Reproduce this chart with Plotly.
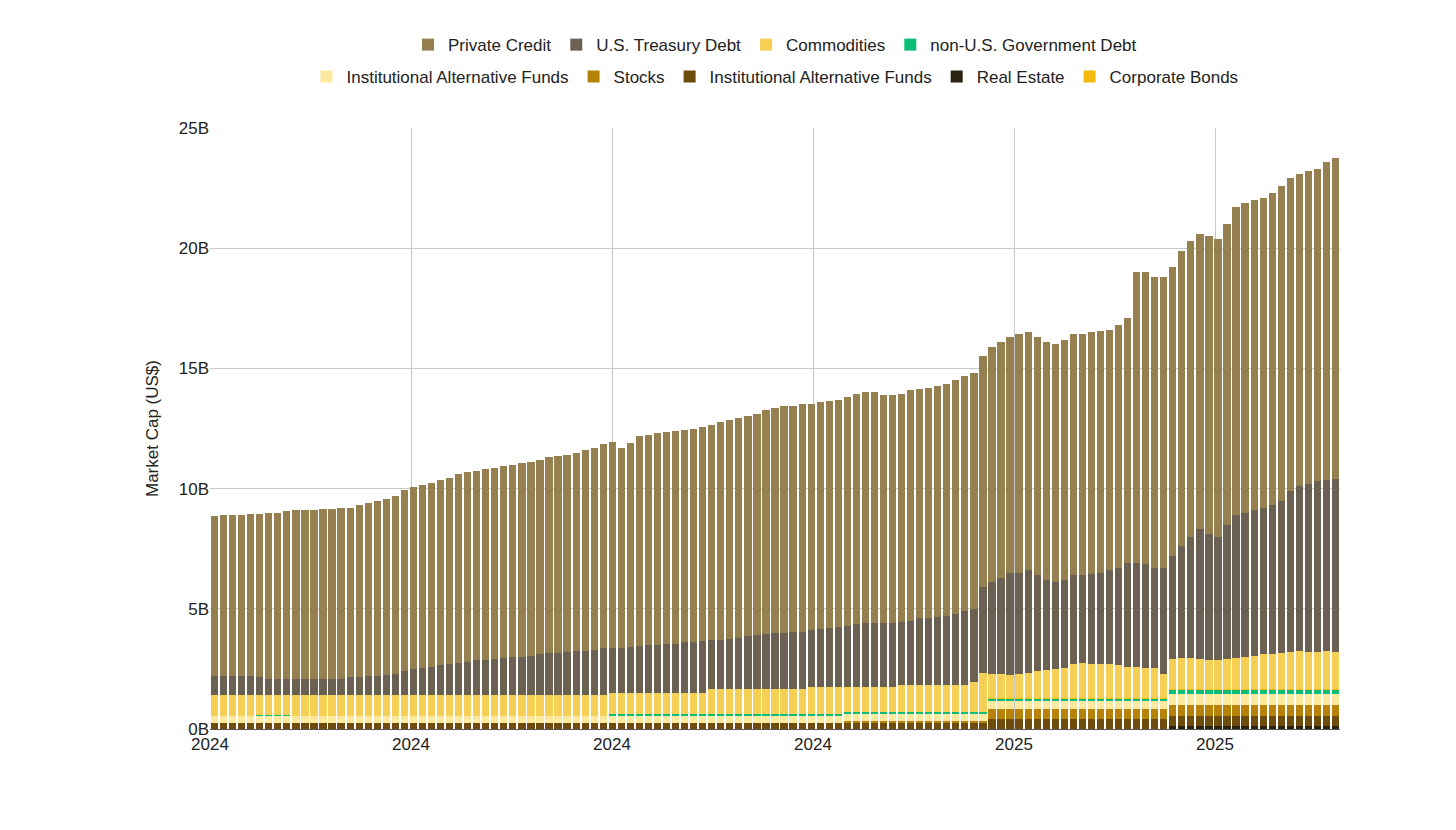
import plotly.graph_objects as go

# weekly bars, values in billions US$ (read as cumulative tops, then split)
total_top = [
    8.85, 8.9, 8.9, 8.9, 8.95, 8.95, 9.0, 9.0, 9.05, 9.1,
    9.1, 9.1, 9.15, 9.15, 9.2, 9.2, 9.3, 9.4, 9.5, 9.55,
    9.7, 9.95, 10.05, 10.15, 10.25, 10.35, 10.45, 10.6, 10.7, 10.75,
    10.8, 10.85, 10.95, 11.0, 11.05, 11.1, 11.2, 11.3, 11.35, 11.4,
    11.5, 11.6, 11.7, 11.85, 11.95, 11.7, 11.9, 12.2, 12.25, 12.3,
    12.35, 12.4, 12.45, 12.5, 12.55, 12.65, 12.75, 12.85, 12.95, 13.0,
    13.1, 13.25, 13.35, 13.45, 13.45, 13.5, 13.5, 13.6, 13.65, 13.7,
    13.8, 13.95, 14.0, 14.0, 13.9, 13.9, 13.95, 14.1, 14.15, 14.2,
    14.25, 14.35, 14.5, 14.7, 14.8, 15.5, 15.9, 16.1, 16.3, 16.45,
    16.5, 16.3, 16.1, 16.0, 16.2, 16.45, 16.45, 16.5, 16.55, 16.6,
    16.8, 17.1, 19.0, 19.0, 18.8, 18.8, 19.2, 19.9, 20.3, 20.6,
    20.5, 20.4, 21.0, 21.7, 21.9, 22.0, 22.1, 22.3, 22.6, 22.9,
    23.1, 23.2, 23.3, 23.6, 23.75,
]
treasury_top = [
    2.2, 2.2, 2.2, 2.2, 2.2, 2.15, 2.1, 2.1, 2.1, 2.1,
    2.1, 2.1, 2.1, 2.1, 2.1, 2.15, 2.15, 2.2, 2.2, 2.25,
    2.3, 2.4, 2.5, 2.55, 2.6, 2.65, 2.7, 2.75, 2.8, 2.85,
    2.85, 2.9, 2.95, 3.0, 3.0, 3.05, 3.1, 3.15, 3.15, 3.2,
    3.25, 3.25, 3.3, 3.35, 3.35, 3.35, 3.4, 3.45, 3.5, 3.5,
    3.55, 3.55, 3.6, 3.6, 3.65, 3.7, 3.7, 3.75, 3.8, 3.85,
    3.9, 3.95, 4.0, 4.0, 4.05, 4.05, 4.1, 4.15, 4.2, 4.25,
    4.3, 4.35, 4.4, 4.4, 4.4, 4.4, 4.45, 4.5, 4.6, 4.6,
    4.65, 4.7, 4.8, 4.9, 5.0, 5.9, 6.1, 6.3, 6.5, 6.5,
    6.6, 6.4, 6.2, 6.1, 6.2, 6.4, 6.4, 6.45, 6.5, 6.6,
    6.7, 6.9, 6.9, 6.85, 6.7, 6.7, 7.2, 7.6, 8.0, 8.3,
    8.1, 8.0, 8.5, 8.9, 9.0, 9.1, 9.2, 9.3, 9.5, 9.9,
    10.1, 10.2, 10.3, 10.35, 10.4,
]
commodities_top = (
    [1.4] * 44 + [1.5] * 11 + [1.65] * 11 + [1.75] * 10 + [1.85] * 8 + [1.95]
    + [2.35, 2.3, 2.3, 2.25, 2.3, 2.35, 2.4, 2.45, 2.5, 2.55]
    + [2.7, 2.75, 2.7, 2.7, 2.7, 2.65, 2.6, 2.6, 2.55, 2.55]
    + [2.3, 2.9, 2.95, 2.95, 2.9, 2.85, 2.85, 2.9, 2.95, 3.0]
    + [3.05, 3.1, 3.1, 3.15, 3.2, 3.25, 3.2, 3.2, 3.25, 3.2]
)
real_estate = [0.0] * 106 + [0.12] * 19
inst_alt_dark = [0.25] * 86 + [0.4] * 20 + [0.43] * 19
stocks = [0.0] * 70 + [0.1] * 16 + [0.45] * 39
inst_alt_light = [0.3] * 86 + [0.3] * 20 + [0.45] * 19
non_us_gov = [0.0] * 5 + [0.05] * 4 + [0.0] * 35 + [0.06] * 42 + [0.1] * 20 + [0.2] * 19
corporate_bonds = [0.0] * 86 + [0.03] * 39

tick_labels = ["2024", "2024", "2024", "2024", "2025", "2025"]

n = len(total_top)
x = list(range(n))
lower_top = [real_estate[i] + inst_alt_dark[i] + stocks[i] + inst_alt_light[i]
             + non_us_gov[i] + corporate_bonds[i] for i in range(n)]
commodities = [commodities_top[i] - lower_top[i] for i in range(n)]
treasury = [treasury_top[i] - commodities_top[i] for i in range(n)]
private_credit = [total_top[i] - treasury_top[i] for i in range(n)]

# bottom to top: (name, values, color, legend, rank)
series = [
    ("Real Estate", real_estate, "#2b230f", "legend2", 8),
    ("Institutional Alternative Funds", inst_alt_dark, "#6e4c0e", "legend2", 7),
    ("Stocks", stocks, "#b7820a", "legend2", 6),
    ("Institutional Alternative Funds", inst_alt_light, "#fde99d", "legend2", 5),
    ("non-U.S. Government Debt", non_us_gov, "#0cbd78", "legend", 4),
    ("Corporate Bonds", corporate_bonds, "#f2b90f", "legend2", 9),
    ("Commodities", commodities, "#f6cf55", "legend", 3),
    ("U.S. Treasury Debt", treasury, "#6b6152", "legend", 2),
    ("Private Credit", private_credit, "#978050", "legend", 1),
]

fig = go.Figure()
for name, vals, color, leg, rank in series:
    fig.add_trace(go.Bar(x=x, y=vals, name=name, marker_color=color,
                         marker_line_width=0, legend=leg, legendrank=rank))

step = 201 / 1130 * n
fig.update_layout(
    barmode="stack", bargap=0.2,
    width=1456, height=830,
    margin=dict(l=202, r=124, t=120, b=109, autoexpand=False),
    plot_bgcolor="white", paper_bgcolor="white",
    font=dict(family="Liberation Sans, Arial", size=17, color="#222"),
    legend=dict(orientation="h", x=0.5, xanchor="center", y=1.138, yanchor="middle",
                traceorder="normal", font=dict(size=17)),
    legend2=dict(orientation="h", x=0.5, xanchor="center", y=1.085, yanchor="middle",
                 traceorder="normal", font=dict(size=17)),
    xaxis=dict(range=[-0.5, n - 0.5], tickvals=[-0.5 + step * k for k in range(6)],
               ticktext=tick_labels, showgrid=True, gridcolor="#c8c8c8",
               showline=True, linecolor="#555", ticks="", tickfont=dict(size=17)),
    yaxis=dict(range=[0, 25], dtick=5, ticksuffix="B", gridcolor="#c8c8c8",
               title=dict(text="Market Cap (US$)", font=dict(size=17)),
               zeroline=False, tickfont=dict(size=17)),
)

fig.write_html("out.html")
